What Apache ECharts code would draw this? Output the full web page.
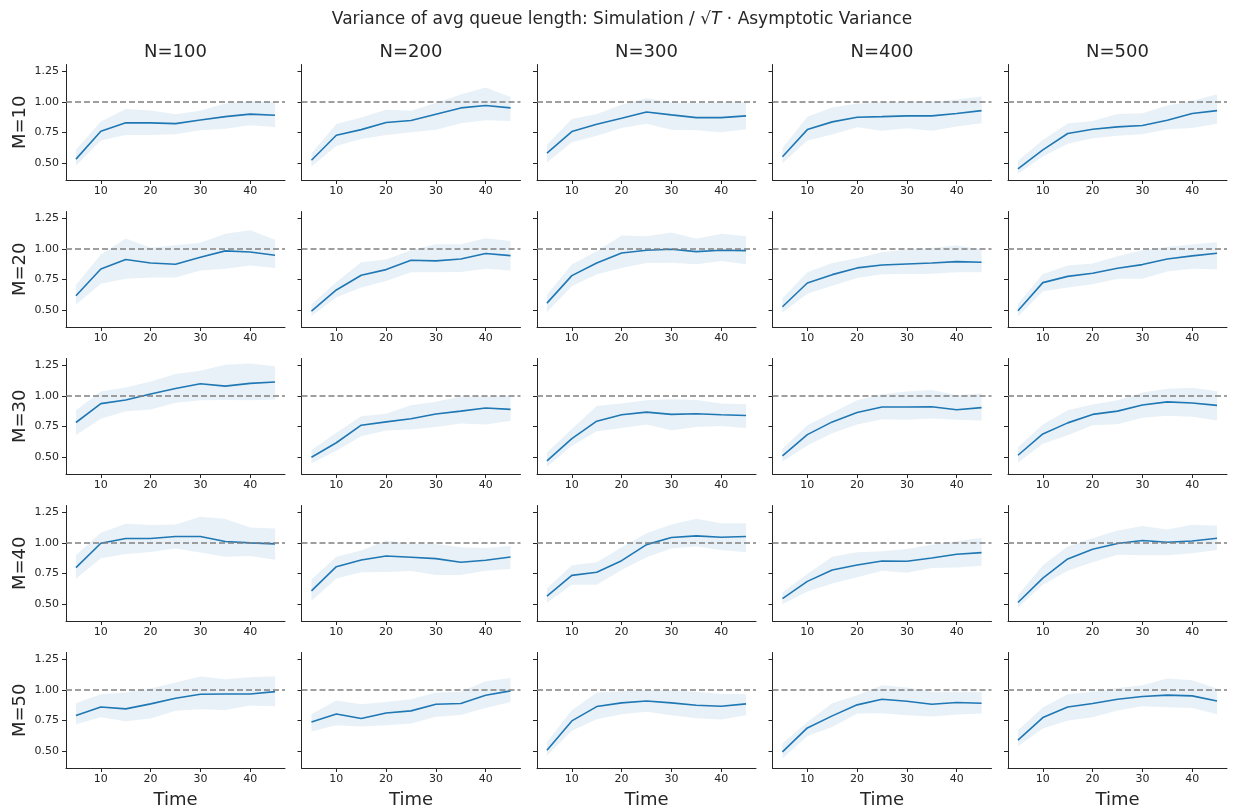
<!DOCTYPE html>
<html><head><meta charset="utf-8">
<script src="https://cdn.jsdelivr.net/npm/echarts@6/dist/echarts.min.js"></script>
<style>html,body{margin:0;padding:0;background:#fff}#c{width:1235px;height:811px}</style>
</head><body><div id="c"></div>
<script>
const times = [5,10,15,20,25,30,35,40,45];
const nValues = [100,200,300,400,500];
const mValues = [10,20,30,40,50];
const xTicks = [10,20,30,40];
const yTicks = [0.5,0.75,1.0,1.25];
const referenceLevel = 1.0;

// each row: one array per N (100..500), values at times 5..45
const meanM10 = [
  [0.533,0.761,0.829,0.829,0.823,0.853,0.880,0.900,0.891],
  [0.524,0.728,0.774,0.832,0.848,0.900,0.951,0.970,0.951],
  [0.582,0.758,0.818,0.867,0.918,0.894,0.872,0.872,0.886],
  [0.552,0.774,0.837,0.875,0.880,0.886,0.886,0.905,0.929],
  [0.454,0.609,0.742,0.777,0.796,0.807,0.851,0.905,0.929]];
const hiM10 = [
  [0.609,0.840,0.943,0.930,0.900,0.927,0.986,1.005,1.000],
  [0.579,0.820,0.872,0.935,0.927,0.990,1.060,1.117,1.040],
  [0.650,0.861,0.902,0.976,1.030,0.995,0.990,0.995,1.000],
  [0.622,0.878,0.954,0.986,0.995,0.998,1.000,1.020,1.043],
  [0.519,0.690,0.823,0.845,0.902,0.908,0.970,1.008,1.063]];
const loM10 = [
  [0.480,0.685,0.731,0.731,0.736,0.769,0.780,0.810,0.796],
  [0.473,0.641,0.698,0.731,0.753,0.772,0.826,0.850,0.845],
  [0.505,0.671,0.723,0.788,0.821,0.772,0.769,0.753,0.777],
  [0.500,0.685,0.734,0.793,0.764,0.785,0.764,0.799,0.826],
  [0.413,0.554,0.658,0.704,0.723,0.736,0.777,0.788,0.821]];

const meanM20 = [
  [0.618,0.836,0.913,0.885,0.875,0.932,0.984,0.975,0.948],
  [0.493,0.665,0.785,0.831,0.907,0.902,0.918,0.962,0.945],
  [0.558,0.782,0.885,0.967,0.989,0.997,0.978,0.989,0.986],
  [0.528,0.722,0.790,0.845,0.869,0.877,0.885,0.896,0.891],
  [0.496,0.725,0.776,0.801,0.842,0.872,0.918,0.943,0.965]];
const hiM20 = [
  [0.706,0.954,1.085,1.010,1.030,1.050,1.123,1.153,1.074],
  [0.547,0.730,0.891,0.913,0.989,1.038,1.038,1.087,1.065],
  [0.627,0.872,0.981,1.109,1.104,1.134,1.082,1.123,1.104],
  [0.597,0.809,0.885,0.924,0.973,0.995,1.008,1.027,0.995],
  [0.550,0.796,0.864,0.880,0.940,0.989,1.016,1.035,1.055]];
const loM20 = [
  [0.547,0.716,0.757,0.766,0.766,0.823,0.839,0.864,0.845],
  [0.452,0.605,0.686,0.738,0.809,0.809,0.812,0.839,0.823],
  [0.485,0.695,0.793,0.845,0.885,0.888,0.875,0.902,0.875],
  [0.482,0.635,0.700,0.763,0.793,0.796,0.798,0.809,0.809],
  [0.449,0.654,0.686,0.711,0.757,0.757,0.815,0.839,0.834]];

const meanM30 = [
  [0.783,0.937,0.967,1.016,1.060,1.099,1.080,1.102,1.113],
  [0.500,0.618,0.761,0.788,0.813,0.852,0.876,0.901,0.890],
  [0.470,0.651,0.794,0.846,0.868,0.849,0.854,0.846,0.840],
  [0.511,0.684,0.788,0.865,0.909,0.909,0.912,0.887,0.904],
  [0.516,0.690,0.780,0.849,0.876,0.926,0.951,0.942,0.923]];
const hiM30 = [
  [0.882,1.036,1.069,1.118,1.179,1.206,1.255,1.264,1.242],
  [0.558,0.700,0.835,0.854,0.923,0.953,0.995,0.995,0.997],
  [0.538,0.731,0.918,0.937,0.964,0.973,0.967,0.937,0.931],
  [0.569,0.761,0.863,0.964,1.014,1.036,1.049,1.005,1.019],
  [0.582,0.766,0.882,0.929,0.964,1.027,1.058,1.066,1.038]];
const loM30 = [
  [0.681,0.813,0.874,0.890,0.945,0.964,0.967,0.964,0.970],
  [0.450,0.552,0.670,0.717,0.725,0.747,0.775,0.766,0.797],
  [0.423,0.593,0.712,0.739,0.766,0.720,0.747,0.755,0.739],
  [0.464,0.596,0.695,0.766,0.810,0.805,0.816,0.805,0.799],
  [0.456,0.610,0.679,0.761,0.769,0.821,0.838,0.830,0.800]];

const meanM40 = [
  [0.798,0.997,1.036,1.036,1.052,1.052,1.011,1.000,0.992],
  [0.609,0.806,0.861,0.893,0.883,0.872,0.842,0.858,0.885],
  [0.566,0.735,0.760,0.855,0.986,1.044,1.057,1.046,1.052],
  [0.546,0.686,0.779,0.820,0.852,0.850,0.877,0.907,0.921],
  [0.514,0.713,0.869,0.948,0.995,1.019,1.005,1.016,1.038]];
const hiM40 = [
  [0.899,1.082,1.156,1.145,1.150,1.213,1.194,1.126,1.117],
  [0.702,0.888,0.937,1.019,0.992,0.992,0.964,0.959,0.975],
  [0.628,0.817,0.842,0.964,1.079,1.150,1.197,1.161,1.161],
  [0.598,0.746,0.888,0.923,0.932,0.951,0.984,1.014,1.041],
  [0.574,0.817,0.970,1.038,1.101,1.137,1.109,1.148,1.139]];
const loM40 = [
  [0.708,0.874,0.910,0.926,0.954,0.921,0.888,0.893,0.863],
  [0.527,0.710,0.760,0.762,0.770,0.738,0.738,0.773,0.787],
  [0.511,0.658,0.658,0.779,0.883,0.954,0.970,0.943,0.923],
  [0.500,0.604,0.669,0.719,0.773,0.757,0.795,0.800,0.814],
  [0.473,0.658,0.773,0.842,0.904,0.899,0.899,0.915,0.943]];

const meanM50 = [
  [0.791,0.861,0.845,0.886,0.932,0.965,0.967,0.967,0.986],
  [0.739,0.804,0.766,0.812,0.829,0.883,0.889,0.957,0.992],
  [0.508,0.747,0.864,0.894,0.910,0.894,0.875,0.867,0.886],
  [0.495,0.690,0.788,0.878,0.924,0.908,0.883,0.897,0.891],
  [0.590,0.774,0.861,0.889,0.924,0.946,0.957,0.951,0.910]];
const hiM50 = [
  [0.891,0.965,0.978,1.011,1.060,1.109,1.087,1.103,1.111],
  [0.802,0.913,0.883,0.902,0.924,0.978,0.984,1.071,1.098],
  [0.576,0.834,0.978,0.989,1.000,0.998,0.984,0.967,0.967],
  [0.563,0.739,0.891,0.957,1.038,1.019,0.984,0.984,0.984],
  [0.671,0.856,0.965,0.984,1.016,1.038,1.092,1.079,1.011]];
const loM50 = [
  [0.720,0.777,0.745,0.766,0.829,0.842,0.837,0.872,0.867],
  [0.660,0.712,0.701,0.712,0.726,0.780,0.796,0.853,0.902],
  [0.462,0.666,0.761,0.802,0.821,0.793,0.769,0.758,0.793],
  [0.440,0.625,0.698,0.807,0.810,0.793,0.783,0.799,0.807],
  [0.541,0.685,0.750,0.777,0.832,0.867,0.859,0.853,0.802]];

const meanRows = [meanM10, meanM20, meanM30, meanM40, meanM50];
const hiRows = [hiM10, hiM20, hiM30, hiM40, hiM50];
const loRows = [loM10, loM20, loM30, loM40, loM50];

const FONT = 'DejaVu Sans';
const INK = '#262626';
const BLUE = '#1f77b4';
const X_MIN = 3, X_MAX = 47, Y_MIN = 0.363, Y_MAX = 1.305;
const G_LEFT = 66, G_STEP_X = 235.5, G_W = 219;
const G_TOP = 64.5, G_STEP_Y = 147, G_H = 115.5;

const grids = [], xAxes = [], yAxes = [], series = [], graphics = [];

graphics.push({type:'text', x: 622, y: 20, style:{
  text: 'Variance of avg queue length: Simulation / √{it|T} · Asymptotic Variance',
  font: '17px "' + FONT + '"', fill: INK, align:'center', verticalAlign:'middle',
  rich: {it: {fontStyle:'italic', fontSize:17, fontFamily: FONT, fill: INK}}
}});

for (let c = 0; c < 5; c++) {
  graphics.push({type:'text', x: G_LEFT + c*G_STEP_X + G_W/2, y: 52, style:{
    text: 'N=' + nValues[c], font: '18px "' + FONT + '"', fill: INK, align:'center', verticalAlign:'middle'}});
  graphics.push({type:'text', x: G_LEFT + c*G_STEP_X + G_W/2, y: 800, style:{
    text: 'Time', font: '18px "' + FONT + '"', fill: INK, align:'center', verticalAlign:'middle'}});
}
for (let r = 0; r < 5; r++) {
  graphics.push({type:'text', x: 20, y: G_TOP + r*G_STEP_Y + G_H/2, rotation: Math.PI/2, style:{
    text: 'M=' + mValues[r], font: '18px "' + FONT + '"', fill: INK, align:'center', verticalAlign:'middle'}});
}

for (let r = 0; r < 5; r++) {
  for (let c = 0; c < 5; c++) {
    const i = r*5 + c;
    grids.push({left: G_LEFT + c*G_STEP_X, top: G_TOP + r*G_STEP_Y, width: G_W, height: G_H});
    xAxes.push({gridIndex: i, type:'value', min: X_MIN, max: X_MAX,
      splitLine:{show:false},
      axisLine:{show:true, onZero:false, lineStyle:{color: INK, width: 1}},
      axisTick:{show:true, length:4, customValues: xTicks, lineStyle:{color: INK}},
      axisLabel:{show:true, customValues: xTicks, fontSize: 11, color: INK, margin: 6, fontFamily: FONT}});
    yAxes.push({gridIndex: i, type:'value', min: Y_MIN, max: Y_MAX,
      splitLine:{show:false},
      axisLine:{show:true, onZero:false, lineStyle:{color: INK, width: 1}},
      axisTick:{show:true, length:4, customValues: yTicks, lineStyle:{color: INK}},
      axisLabel:{show: c === 0, customValues: yTicks, formatter: v => v.toFixed(2),
        fontSize: 11, color: INK, margin: 7, fontFamily: FONT}});
    const mean = meanRows[r][c], lo = loRows[r][c], hi = hiRows[r][c];
    series.push({type:'custom', xAxisIndex:i, yAxisIndex:i, z:1, silent:true,
      data: times.map((t,k) => [t, lo[k], hi[k]]),
      encode:{x:0, y:[1,2]},
      renderItem: (params, api) => {
        if (params.dataIndex !== 0) return null;
        const pts = [];
        for (let k = 0; k < times.length; k++) pts.push(api.coord([times[k], hi[k]]));
        for (let k = times.length - 1; k >= 0; k--) pts.push(api.coord([times[k], lo[k]]));
        return {type:'polygon', shape:{points: pts}, style:{fill:'rgba(31,119,180,0.1)', stroke:null}};
      }});
    series.push({type:'line', xAxisIndex:i, yAxisIndex:i, z:3, silent:true,
      data: times.map((t,k) => [t, mean[k]]),
      showSymbol:false, symbol:'none',
      lineStyle:{color: BLUE, width: 1.6},
      markLine:{silent:true, symbol:'none', label:{show:false}, animation:false,
        lineStyle:{color:'#808080', type:[6,3], width:1.6},
        data:[{yAxis: referenceLevel}]}});
  }
}

const chart = echarts.init(document.getElementById('c'), null, {renderer:'canvas'});
chart.setOption({animation:false, backgroundColor:'#ffffff', grid: grids, xAxis: xAxes, yAxis: yAxes, series, graphic: graphics});
</script></body></html>
